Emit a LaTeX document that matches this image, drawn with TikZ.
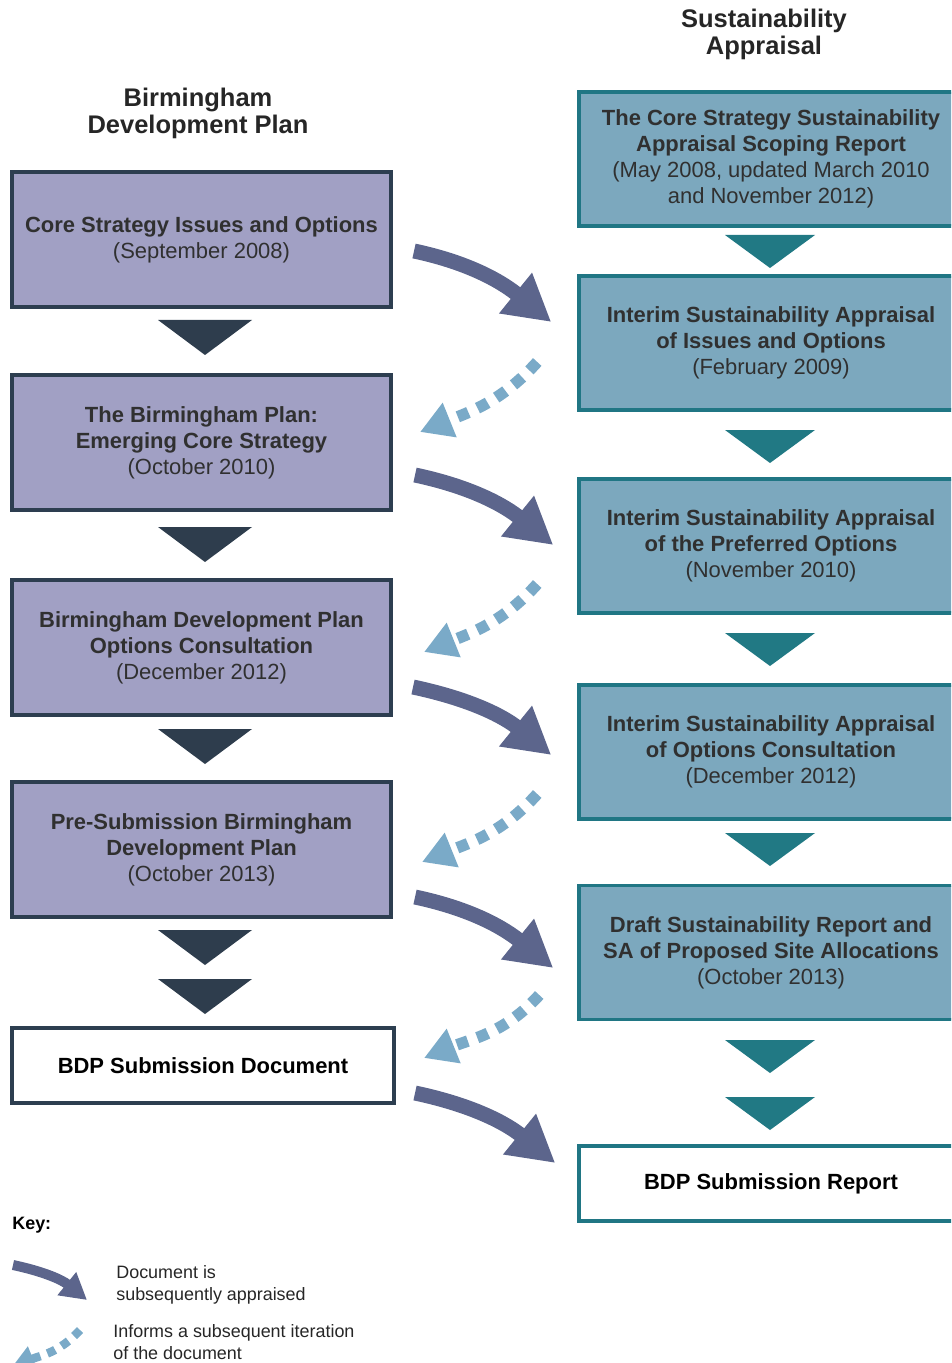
\documentclass[tikz,border=0pt]{standalone}
\usepackage{fontspec}
\setmainfont{Liberation Sans}
\usetikzlibrary{arrows.meta}

\definecolor{bdpfill}{RGB}{161,160,196}
\definecolor{bdpline}{RGB}{45,62,80}
\definecolor{safill}{RGB}{124,168,190}
\definecolor{saline}{RGB}{32,118,132}
\definecolor{bdptri}{RGB}{46,61,77}
\definecolor{satri}{RGB}{33,121,132}
\definecolor{solidarrow}{RGB}{92,101,140}
\definecolor{dotarrow}{RGB}{122,170,200}
\definecolor{txtgray}{RGB}{48,48,48}

\newcommand\boxfont{\fontsize{12.5}{14.8}\selectfont\bfseries}

\begin{document}
\begin{tikzpicture}[
  heading/.style={align=center, text=black!85, font=\fontsize{14.5}{15.3}\selectfont\bfseries},
  bdpbox/.style={draw=bdpline, fill=bdpfill, line width=2.3pt, minimum width=7.58cm, minimum height=2.7cm, align=center, text=txtgray, font=\boxfont},
  sabox/.style={draw=saline, fill=safill, line width=2pt, minimum width=7.68cm, minimum height=2.68cm, align=center, text=txtgray, font=\boxfont},
  bdpend/.style={bdpbox, fill=white, minimum width=7.64cm, minimum height=1.5cm, text=black},
  saend/.style={sabox, fill=white, minimum height=1.5cm, text=black},
  appraise/.style={draw=solidarrow, line width=0.3cm, -{Triangle[length=0.92cm,width=0.98cm]}},
  informs/.style={draw=dotarrow, line width=0.23cm, dash pattern=on 0.23cm off 0.2cm, -{Triangle[length=0.64cm,width=0.7cm]}},
  keytext/.style={anchor=west, inner sep=0pt, align=left, text=black!85, font=\fontsize{10.2}{12.5}\selectfont}
]
\useasboundingbox (0,0) rectangle (19.02,-27.26);
\clip (0,0) rectangle (19.02,-27.26);

% headings
\node[heading] (bdphead) at (3.96,-2.26) {Birmingham\\Development Plan};
\node[heading] (sahead) at (15.28,-0.69) {Sustainability\\Appraisal};

% Birmingham Development Plan
\node[bdpbox] (lb1) at (4.03,-4.79) {Core Strategy Issues and Options\\\mdseries (September 2008)};
\node[bdpbox] (lb2) at (4.03,-8.85) {The Birmingham Plan:\\Emerging Core Strategy\\\mdseries (October 2010)};
\node[bdpbox] (lb3) at (4.03,-12.95) {Birmingham Development Plan\\Options Consultation\\\mdseries (December 2012)};
\node[bdpbox] (lb4) at (4.03,-16.99) {Pre-Submission Birmingham\\Development Plan\\\mdseries (October 2013)};
\node[bdpend] (lb5) at (4.06,-21.31) {BDP Submission Document};

% Sustainability Appraisal
\node[sabox] (rb1) at (15.42,-3.18) {The Core Strategy Sustainability\\Appraisal Scoping Report\\\mdseries (May 2008, updated March 2010\\\mdseries and November 2012)};
\node[sabox] (rb2) at (15.42,-6.86) {Interim Sustainability Appraisal\\of Issues and Options\\\mdseries (February 2009)};
\node[sabox] (rb3) at (15.42,-10.92) {Interim Sustainability Appraisal\\of the Preferred Options\\\mdseries (November 2010)};
\node[sabox] (rb4) at (15.42,-15.04) {Interim Sustainability Appraisal\\of Options Consultation\\\mdseries (December 2012)};
\node[sabox] (rb5) at (15.42,-19.05) {Draft Sustainability Report and\\SA of Proposed Site Allocations\\\mdseries (October 2013)};
\node[saend] (rb6) at (15.42,-23.67) {BDP Submission Report};

% triangles
\foreach \t in {6.4,10.54,14.58,18.6,19.58}
  \fill[bdptri] (3.16,-\t) -- (5.04,-\t) -- (4.1,-\t-0.7) -- cycle;
\foreach \t in {4.7,8.6,12.66,16.66,20.8,21.94}
  \fill[satri] (14.5,-\t) -- (16.3,-\t) -- (15.4,-\t-0.66) -- cycle;

% document is appraised
\draw[appraise] ([shift={(0.42,-0.23)}]lb1.east) to[out=-12,in=141] ([shift={(-0.52,0.42)}]rb2.west);
\draw[appraise] ([shift={(0.44,-0.65)}]lb2.east) to[out=-12,in=141] ([shift={(-0.48,0.02)}]rb3.west);
\draw[appraise] ([shift={(0.4,-0.79)}]lb3.east) to[out=-12,in=141] ([shift={(-0.52,-0.06)}]rb4.west);
\draw[appraise] ([shift={(0.44,-0.95)}]lb4.east) to[out=-12,in=141] ([shift={(-0.48,-0.31)}]rb5.west);
\draw[appraise] ([shift={(0.38,-0.55)}]lb5.east) to[out=-12,in=141] ([shift={(-0.44,0.41)}]rb6.west);

% informs next iteration
\draw[informs] ([shift={(-0.8,-0.38)}]rb2.west) to[out=228,in=22] ([shift={(0.54,0.21)}]lb2.east);
\draw[informs] ([shift={(-0.8,-0.76)}]rb3.west) to[out=228,in=22] ([shift={(0.62,-0.09)}]lb3.east);
\draw[informs] ([shift={(-0.8,-0.84)}]rb4.west) to[out=228,in=22] ([shift={(0.58,-0.25)}]lb4.east);
\draw[informs] ([shift={(-0.76,-0.85)}]rb5.west) to[out=228,in=22] ([shift={(0.56,0.15)}]lb5.east);

% key
\node[anchor=west, inner sep=0pt, font=\fontsize{10.2}{12.5}\selectfont\bfseries] (keyhead) at (0.24,-24.5) {Key:};
\node[keytext] (key1) at (2.32,-25.7) {Document is\\subsequently appraised};
\node[keytext] (key2) at (2.26,-26.85) {Informs a subsequent iteration\\of the document};
\coordinate (k1a) at (0.26,-25.3);
\coordinate (k1b) at (1.74,-26.0);
\coordinate (k2a) at (1.6,-26.6);
\coordinate (k2b) at (0.24,-27.34);
\draw[appraise, line width=0.2cm, -{Triangle[length=0.52cm,width=0.56cm]}] (k1a) to[out=-12,in=141] (k1b);
\draw[informs, line width=0.17cm, dash pattern=on 0.17cm off 0.15cm, -{Triangle[length=0.45cm,width=0.5cm]}] (k2a) to[out=228,in=22] (k2b);
\end{tikzpicture}
\end{document}
